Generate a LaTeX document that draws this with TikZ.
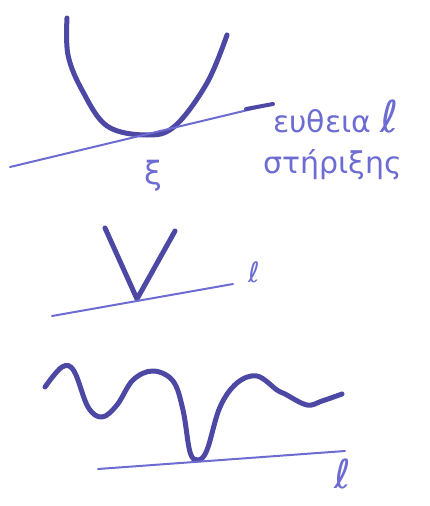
\documentclass[tikz,border=0pt]{standalone}
\usepackage{fontspec}
\setmainfont{DejaVu Sans}
\usetikzlibrary{positioning}
\definecolor{inkdark}{RGB}{78,72,165}
\definecolor{inklight}{RGB}{108,108,210}
\tikzstyle{curve} = [draw=inkdark, line width=5pt, line cap=round, line join=round]
\tikzstyle{support} = [draw=inklight, line width=2pt, line cap=round]
\tikzstyle{handtext} = [text=inklight, font=\fontsize{30}{34}\selectfont, inner sep=0pt]

\begin{document}
\begin{tikzpicture}[x=1pt, y=-1pt]
\useasboundingbox (0,0) rectangle (430,506);

% Parabola with supporting line
\coordinate (l1a) at (10,167);
\coordinate (l1b) at (273,104);
\coordinate (l1c) at (246,109);
\draw [curve] plot[smooth, tension=0.6] coordinates {(67,18) (68,55) (82,90) (107,126) (147,135) (175,126) (207,83) (227,35)};
\draw [support] (l1a) -- (l1b);
\draw [curve, line width=4pt] (l1c) -- (l1b);
\node (xi) [handtext, font=\fontsize{32}{36}\selectfont] at (153,176) {ξ};
\node (word1) [handtext, anchor=base west] at (273,132) {ευθεια\ {\fontsize{44}{48}\selectfont ℓ}};
\node (word2) [handtext, anchor=base west] at (263,173) {στήριξης};

% V shape
\coordinate (l2a) at (52,316);
\coordinate (l2b) at (233,284);
\coordinate (vtip) at (137,299);
\draw [curve] (105,228) -- (vtip) -- (175,231);
\draw [support] (l2a) -- (l2b);
\node (ell2) [handtext, font=\fontsize{28}{32}\selectfont] at (254,272) {ℓ};

% Wavy curve
\coordinate (l3a) at (98,469);
\coordinate (l3b) at (345,451);
\draw [curve] plot[smooth, tension=0.6] coordinates {(45,387) (62,367) (74,371) (88,407) (102,417) (117,405) (133,380) (153,371) (173,381) (183,410) (190,452) (198,460) (207,450) (220,407) (237,383) (257,376) (277,390) (285,394) (307,405) (322,401) (342,394)};
\draw [support] (l3a) -- (l3b);
\node (ell3) [handtext, font=\fontsize{40}{44}\selectfont] at (343,474) {ℓ};

\end{tikzpicture}
\end{document}
